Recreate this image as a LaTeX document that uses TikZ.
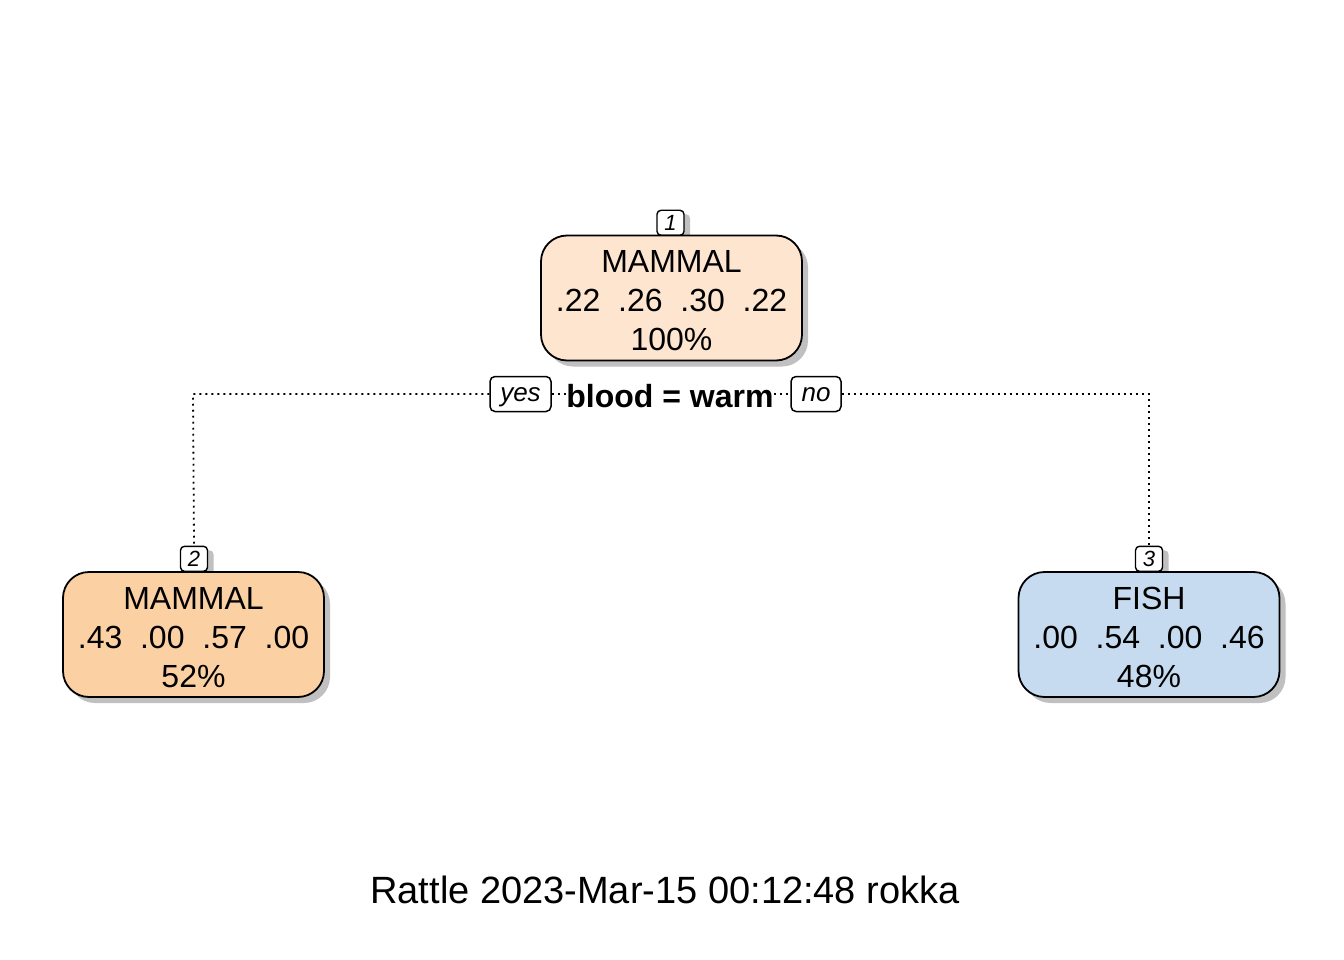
\documentclass[tikz,border=0pt]{standalone}
\usepackage{fontspec}
\setmainfont{Liberation Sans}
\usetikzlibrary{shadows}
\definecolor{rootfill}{HTML}{FDE5D0}
\definecolor{mamfill}{HTML}{FBD0A3}
\definecolor{fishfill}{HTML}{C6DBEF}
\definecolor{shadowgray}{HTML}{C0C0C0}
\begin{document}
\begin{tikzpicture}[x=1pt,y=-1pt,
  box/.style={draw, line width=1.8pt, rounded corners=26pt, minimum width=261pt,
    minimum height=125pt, inner sep=0pt,
    drop shadow={shadow xshift=6pt, shadow yshift=-6pt, fill=shadowgray, opacity=1}},
  boxtext/.style={align=center, inner sep=0pt, font=\fontsize{32}{39}\selectfont},
  numbox/.style={draw, line width=1.4pt, fill=white, rounded corners=4pt, minimum width=27pt,
    minimum height=25pt, inner sep=0pt, anchor=south,
    text height=16pt, text depth=0pt,
    font=\fontsize{22}{22}\itshape\selectfont,
    drop shadow={shadow xshift=6pt, shadow yshift=-4pt, fill=shadowgray, opacity=1}},
  ansbox/.style={draw, line width=1.5pt, fill=white, rounded corners=5pt,
    minimum height=35pt, inner sep=0pt, text height=18pt, text depth=4pt,
    font=\fontsize{26}{26}\itshape\selectfont},
  conn/.style={line width=1.8pt, dash pattern=on 1.8pt off 4.2pt}
]
\useasboundingbox[fill=white] (0,0) rectangle (1344,960);

% number labels
\node[numbox] (l1) at (670.5,236) {1};
\node[numbox] (l2) at (194,572) {2};
\node[numbox] (l3) at (1149,572) {3};

% main boxes
\node[box, fill=rootfill] (root) at (671.5,298) {};
\node[box, fill=mamfill] (n2) at (193.5,634.5) {};
\node[box, fill=fishfill] (n3) at (1149,634.5) {};
\node[boxtext] (roottext) at ([yshift=-3pt]root.center) {MAMMAL\\.22\ \ .26\ \ .30\ \ .22\\100\%};
\node[boxtext] (n2text) at ([yshift=-3pt]n2.center) {MAMMAL\\.43\ \ .00\ \ .57\ \ .00\\52\%};
\node[boxtext] (n3text) at ([yshift=-3pt]n3.center) {FISH\\.00\ \ .54\ \ .00\ \ .46\\48\%};

% split
\node[font=\fontsize{32}{32}\bfseries\selectfont, inner sep=0pt] (split) at (670,396) {blood = warm};
\node[ansbox, minimum width=61pt] (yes) at (520.5,394) {yes};
\node[ansbox, minimum width=50pt] (no) at (816,394) {no};

\coordinate (cl) at (193,394);
\coordinate (cr) at (1149,394);

\draw[conn] (yes.west) -- (cl) -- (l2.north);
\draw[conn] (no.east) -- (cr) -- (l3.north);
\draw[conn] (yes.east) -- (split.west |- yes.east);
\draw[conn] (split.east |- no.west) -- (no.west);

% footer
\node[font=\fontsize{38}{38}\selectfont, inner sep=0pt] (footer) at (665,890) {Rattle 2023-Mar-15 00:12:48 rokka};
\end{tikzpicture}
\end{document}
